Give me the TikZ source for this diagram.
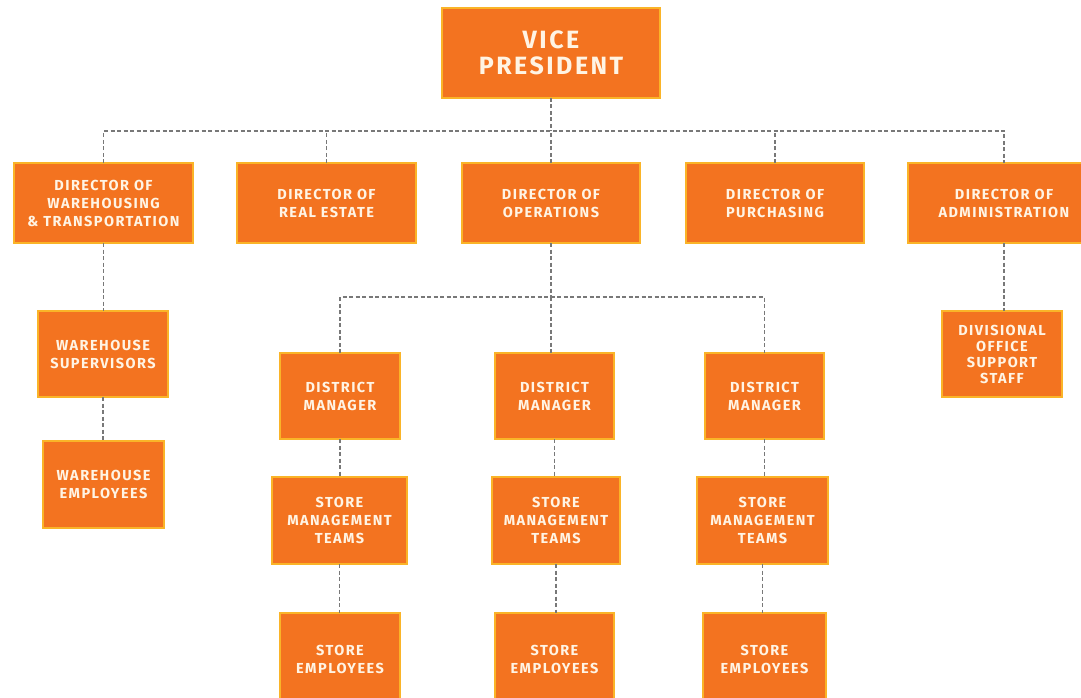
\documentclass[tikz,border=0pt]{standalone}
\usepackage{fontspec}
\setmainfont{Fira Sans}[LetterSpace=10]
\begin{document}
\begin{tikzpicture}[x=1pt,y=-1pt,
  orgbox/.style={draw=boxedge, line width=1.6pt, fill=boxfill, text=boxtext,
    font=\bfseries\fontsize{14.5}{18}\selectfont, align=center,
    inner sep=0pt, outer sep=0pt},
  link/.style={draw=linkgray, line width=1.4pt, dash pattern=on 4pt off 2.5pt}]
\definecolor{boxfill}{RGB}{243,115,32}
\definecolor{boxedge}{RGB}{250,180,40}
\definecolor{boxtext}{RGB}{255,244,228}
\definecolor{linkgray}{RGB}{120,120,120}
\useasboundingbox (0,0) rectangle (1081,698);
\clip (0,0) rectangle (1081,698);

% top of the hierarchy
\node[orgbox, minimum width=218pt, minimum height=90pt,
  font=\bfseries\fontsize{25}{26}\selectfont] (vp) at (551,53) {VICE\\PRESIDENT};

% directors
\node[orgbox, minimum width=179pt, minimum height=80pt] (d1) at (103.5,203) {DIRECTOR OF\\WAREHOUSING\\\& TRANSPORTATION};
\node[orgbox, minimum width=179pt, minimum height=80pt] (d2) at (326.5,203) {DIRECTOR OF\\REAL ESTATE};
\node[orgbox, minimum width=178pt, minimum height=80pt] (d3) at (551,203) {DIRECTOR OF\\OPERATIONS};
\node[orgbox, minimum width=178pt, minimum height=80pt] (d4) at (775,203) {DIRECTOR OF\\PURCHASING};
\node[orgbox, minimum width=192pt, minimum height=80pt] (d5) at (1004,203) {DIRECTOR OF\\ADMINISTRATION};

% warehousing branch
\node[orgbox, minimum width=130pt, minimum height=86pt] (ws) at (103,354) {WAREHOUSE\\SUPERVISORS};
\node[orgbox, minimum width=121pt, minimum height=87pt] (we) at (103.5,484.5) {WAREHOUSE\\EMPLOYEES};

% administration branch
\node[orgbox, minimum width=120pt, minimum height=86pt,
  font=\bfseries\fontsize{14.5}{16}\selectfont] (doss) at (1002,354) {DIVISIONAL\\OFFICE\\SUPPORT\\STAFF};

% operations branch
\node[orgbox, minimum width=120pt, minimum height=86pt] (dm1) at (340,396) {DISTRICT\\MANAGER};
\node[orgbox, minimum width=119pt, minimum height=86pt] (dm2) at (554.5,396) {DISTRICT\\MANAGER};
\node[orgbox, minimum width=119pt, minimum height=86pt] (dm3) at (764.5,396) {DISTRICT\\MANAGER};

\node[orgbox, minimum width=135pt, minimum height=87pt] (smt1) at (339.5,520.5) {STORE\\MANAGEMENT\\TEAMS};
\node[orgbox, minimum width=128pt, minimum height=87pt] (smt2) at (556,520.5) {STORE\\MANAGEMENT\\TEAMS};
\node[orgbox, minimum width=131pt, minimum height=87pt] (smt3) at (762.5,520.5) {STORE\\MANAGEMENT\\TEAMS};

\node[orgbox, minimum width=120pt, minimum height=92pt] (se1) at (340,659) {STORE\\EMPLOYEES};
\node[orgbox, minimum width=119pt, minimum height=92pt] (se2) at (554.5,659) {STORE\\EMPLOYEES};
\node[orgbox, minimum width=123pt, minimum height=92pt] (se3) at (764.5,659) {STORE\\EMPLOYEES};

% connectors
\coordinate (bus) at (551,131);
\coordinate (obus) at (551,297);

\draw[link] (vp.south) -- (bus);
\draw[link] (d1.north) |- (bus) -| (d5.north);
\draw[link] (d2.north) -- (d2.north |- bus);
\draw[link] (d3.north) -- (d3.north |- bus);
\draw[link] (d4.north) -- (d4.north |- bus);

\draw[link] (d1.south) -- (d1.south |- ws.north);
\draw[link] (ws.south) -- (ws.south |- we.north);
\draw[link] (d5.south) -- (d5.south |- doss.north);

\draw[link] (d3.south) -- (obus);
\draw[link] (dm1.north) |- (obus) -| (dm3.north);
\draw[link] (obus) -- (obus |- dm2.north);

\draw[link] (dm1.south) -- (dm1.south |- smt1.north);
\draw[link] (dm2.south) -- (dm2.south |- smt2.north);
\draw[link] (dm3.south) -- (dm3.south |- smt3.north);
\draw[link] (smt1.south) -- (smt1.south |- se1.north);
\draw[link] (smt2.south) -- (smt2.south |- se2.north);
\draw[link] (smt3.south) -- (smt3.south |- se3.north);
\end{tikzpicture}
\end{document}
